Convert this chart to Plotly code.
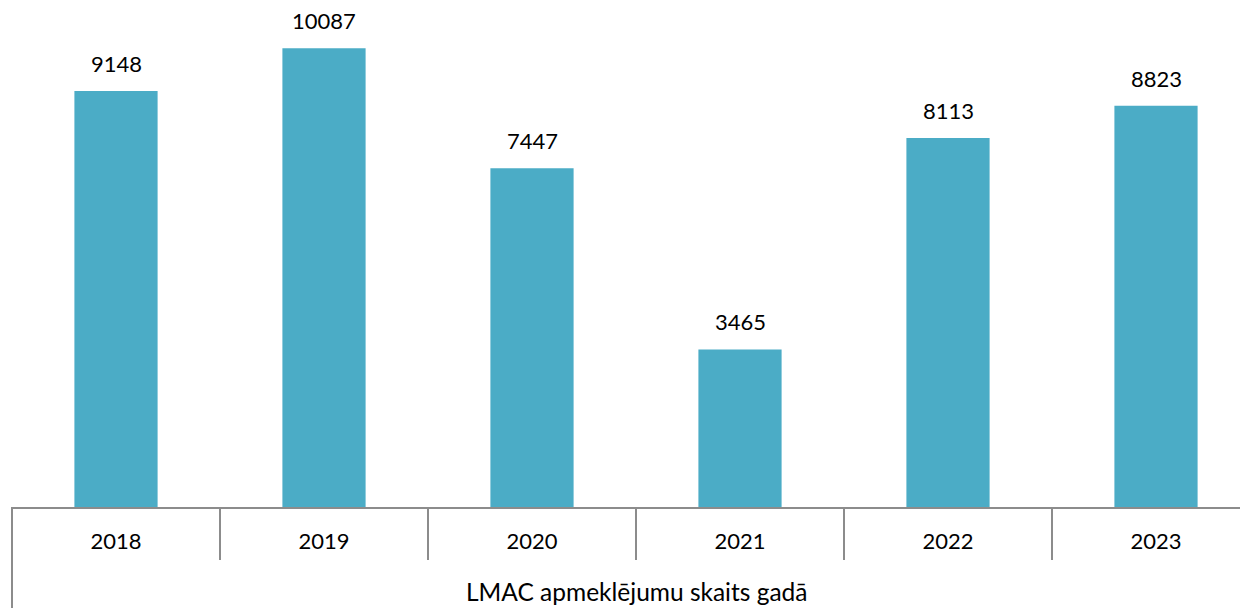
import plotly.graph_objects as go

years = ["2018", "2019", "2020", "2021", "2022", "2023"]
visits = [9148, 10087, 7447, 3465, 8113, 8823]
axis_title = "LMAC apmeklējumu skaits gadā"

BAR_COLOR = "#4BACC6"
LINE_COLOR = "#8C8C8C"
FONT = "Lato"
FS = 22

fig = go.Figure()
fig.add_trace(go.Bar(x=years, y=visits, marker=dict(color=BAR_COLOR, line=dict(width=0)),
                     width=0.4, hoverinfo="x+y"))

# value labels above bars (category index positions)
for i, v in enumerate(visits):
    fig.add_annotation(x=i, y=v, xref="x", yref="y", text=str(v), showarrow=False,
                       yanchor="bottom", yshift=12, font=dict(family=FONT, size=FS, color="black"))

center = (len(years) - 1) / 2
fig.add_annotation(x=center, y=0, xref="x", yref="paper", text=axis_title, showarrow=False,
                   yanchor="middle", yshift=-84, font=dict(family=FONT, size=24.5, color="black"))

# left border of the category table
fig.add_shape(type="line", xref="paper", yref="paper", x0=0, x1=0, y0=0, y1=-0.25,
              line=dict(color=LINE_COLOR, width=2))

fig.update_layout(
    width=1240, height=600,
    margin=dict(l=4, r=0, t=0, b=101),
    paper_bgcolor="white", plot_bgcolor="white",
    showlegend=False,
    font=dict(family=FONT, size=FS, color="black"),
    xaxis=dict(type="category", range=[-0.5, -0.5 + 1236 / 208], showline=True,
               linecolor=LINE_COLOR, linewidth=2, ticks="outside", tickson="boundaries",
               ticklen=51, tickwidth=2, tickcolor=LINE_COLOR, showgrid=False,
               ticklabelstandoff=14, automargin=False, zeroline=False,
               tickfont=dict(family=FONT, size=FS, color="black")),
    yaxis=dict(range=[0, 10972], showticklabels=False, ticks="", showline=False,
               showgrid=False, zeroline=False, automargin=False),
)

fig.write_html("out.html")
